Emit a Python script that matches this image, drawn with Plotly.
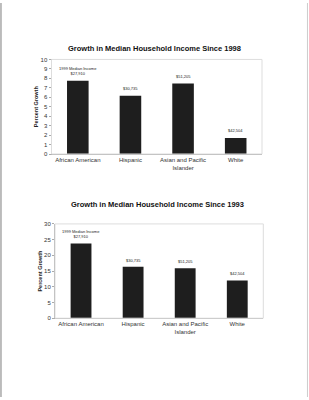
import plotly.graph_objects as go

categories = ["African American", "Hispanic", "Asian and Pacific<br>Islander", "White"]
growth_since_1998 = [7.75, 6.15, 7.45, 1.7]
growth_since_1993 = [23.8, 16.4, 15.9, 12.0]
income_labels = ["1999 Median Income<br>$27,910", "$30,735", "$51,205", "$42,504"]
title_top = "Growth in Median Household Income Since 1998"
title_bottom = "Growth in Median Household Income Since 1993"
y_title = "Percent Growth"

FONT = "Liberation Sans, Arial, sans-serif"
BAR = "#1e1e1e"

fig = go.Figure()
fig.add_trace(go.Bar(x=categories, y=growth_since_1998, marker=dict(color=BAR, line=dict(width=0)),
                     width=0.41, xaxis="x", yaxis="y", showlegend=False))
fig.add_trace(go.Bar(x=categories, y=growth_since_1993, marker=dict(color=BAR, line=dict(width=0)),
                     width=0.4, xaxis="x2", yaxis="y2", showlegend=False))

annotations = []
for cat, val, lab in zip(categories, growth_since_1998, income_labels):
    annotations.append(dict(x=cat, y=val, xref="x", yref="y", text=lab, showarrow=False,
                            yanchor="bottom", yshift=3, font=dict(size=4, family=FONT, color="#222")))
for cat, val, lab in zip(categories, growth_since_1993, income_labels):
    annotations.append(dict(x=cat, y=val, xref="x2", yref="y2", text=lab, showarrow=False,
                            yanchor="bottom", yshift=2, font=dict(size=4, family=FONT, color="#222")))
annotations.append(dict(x=0.5, y=1 - 40 / 400, xref="paper", yref="paper", text="<b>" + title_top + "</b>",
                        showarrow=False, font=dict(size=7.5, family=FONT, color="#111")))
annotations.append(dict(x=0.51, y=1 - 205 / 400, xref="paper", yref="paper", text="<b>" + title_bottom + "</b>",
                        showarrow=False, font=dict(size=7.5, family=FONT, color="#111")))

axis_common = dict(showgrid=False, zeroline=False, showline=True, linecolor="#aaa", linewidth=1,
                   mirror=False, tickfont=dict(size=6, family=FONT, color="#333"))

fig.update_layout(
    width=309, height=400, margin=dict(l=0, r=0, t=0, b=0),
    paper_bgcolor="white", plot_bgcolor="white",
    xaxis=dict(domain=[51.5 / 309, 262 / 309], anchor="y", range=[-0.5, 3.5], ticks="", **axis_common),
    yaxis=dict(domain=[1 - 153.3 / 400, 1 - 57.3 / 400], anchor="x", range=[0, 10], dtick=1,
               ticks="outside", ticklen=2, tickcolor="#aaa",
               title=dict(text="<b>" + y_title + "</b>", font=dict(size=5.5, family=FONT, color="#222"), standoff=1),
               **axis_common),
    xaxis2=dict(domain=[55 / 309, 263.3 / 309], anchor="y2", range=[-0.5, 3.5], ticks="", **axis_common),
    yaxis2=dict(domain=[1 - 320 / 400, 1 - 224.3 / 400], anchor="x2", range=[0, 30], dtick=5,
                ticks="outside", ticklen=2, tickcolor="#aaa",
                title=dict(text="<b>" + y_title + "</b>", font=dict(size=5.5, family=FONT, color="#222"), standoff=1),
                **axis_common),
    annotations=annotations,
    shapes=[
        dict(type="rect", xref="x domain", yref="y domain", x0=0, x1=1, y0=0, y1=1, line=dict(color="#ddd", width=1)),
        dict(type="rect", xref="x2 domain", yref="y2 domain", x0=0, x1=1, y0=0, y1=1, line=dict(color="#ddd", width=1)),
        dict(type="line", xref="paper", yref="paper", x0=0.003, x1=0.003, y0=0, y1=1, line=dict(color="#bbb", width=2)),
        dict(type="line", xref="paper", yref="paper", x0=0.995, x1=0.995, y0=0, y1=1, line=dict(color="#ccc", width=1)),
    ],
)

fig.write_html("out.html")
